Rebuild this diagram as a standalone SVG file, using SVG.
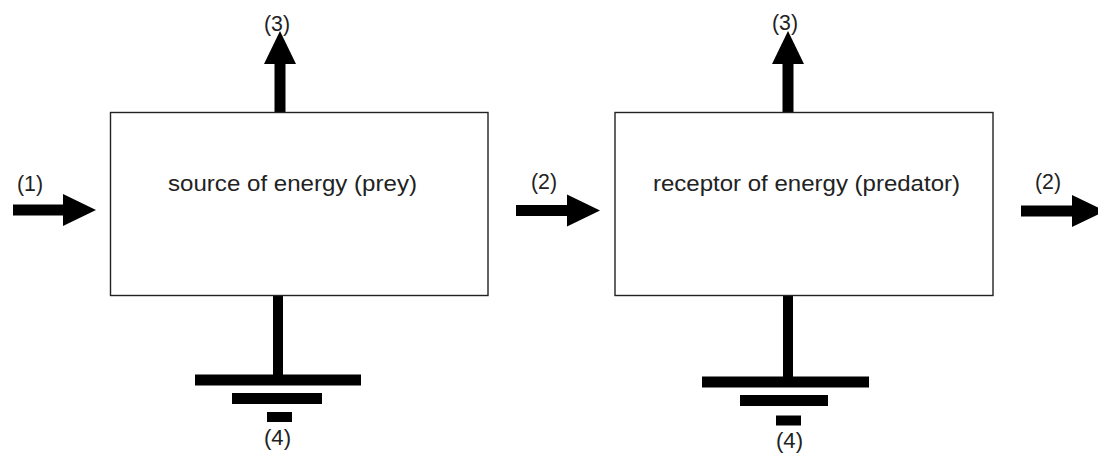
<svg xmlns="http://www.w3.org/2000/svg" width="1098" height="453" viewBox="0 0 1098 453">
<style>
.box{fill:#fff;stroke:#222;stroke-width:1.4}
.main{font-family:"Liberation Sans",Arial,sans-serif;font-size:22px;fill:#222}
.lbl{font-family:"Liberation Sans",Arial,sans-serif;font-size:22px;fill:#222}
.shaft{stroke:#000;stroke-width:11;fill:none}
.stem{stroke:#000;stroke-width:10;fill:none}
.bar{fill:#000}
</style>
<defs>
<marker id="head" markerUnits="userSpaceOnUse" markerWidth="34" markerHeight="33" refX="0" refY="16" orient="auto" overflow="visible">
<path d="M0,0 L33,16 L0,32 Z" fill="#000"/>
</marker>
</defs>
<rect width="1098" height="453" fill="#fff"/>
<g id="connectors">
<line class="shaft" x1="13" y1="210" x2="63" y2="210" marker-end="url(#head)"/>
<line class="shaft" x1="516" y1="210.5" x2="567" y2="210.5" marker-end="url(#head)"/>
<line class="shaft" x1="1021" y1="211" x2="1072" y2="211" marker-end="url(#head)"/>
<line class="shaft" x1="280" y1="113" x2="280" y2="64" marker-end="url(#head)"/>
<line class="shaft" x1="788" y1="113" x2="788" y2="64" marker-end="url(#head)"/>
<line class="stem" x1="278" y1="296" x2="278" y2="375"/>
<line class="stem" x1="788" y1="296" x2="788" y2="377"/>
</g>
<g id="source">
<rect class="box" x="110.5" y="112.5" width="377.5" height="183"/>
<text class="main" x="168" y="191" textLength="249" lengthAdjust="spacingAndGlyphs">source of energy (prey)</text>
</g>
<g id="receptor">
<rect class="box" x="615" y="112.5" width="378" height="183"/>
<text class="main" x="653" y="191" textLength="307" lengthAdjust="spacingAndGlyphs">receptor of energy (predator)</text>
</g>
<g id="ground1">
<rect class="bar" x="195" y="374.5" width="166" height="11"/>
<rect class="bar" x="232" y="393" width="90" height="11"/>
<rect class="bar" x="267" y="412" width="25" height="10"/>
</g>
<g id="ground2">
<rect class="bar" x="702" y="376.5" width="167" height="11"/>
<rect class="bar" x="740" y="395" width="88" height="11"/>
<rect class="bar" x="776" y="415.5" width="25" height="10"/>
</g>
<g id="labels">
<text class="lbl" x="17" y="191" textLength="26" lengthAdjust="spacingAndGlyphs">(1)</text>
<text class="lbl" x="531" y="188.5" textLength="26" lengthAdjust="spacingAndGlyphs">(2)</text>
<text class="lbl" x="1035" y="189" textLength="26" lengthAdjust="spacingAndGlyphs">(2)</text>
<text class="lbl" x="264" y="31" textLength="26" lengthAdjust="spacingAndGlyphs">(3)</text>
<text class="lbl" x="772" y="29.5" textLength="26" lengthAdjust="spacingAndGlyphs">(3)</text>
<text class="lbl" x="264" y="445" textLength="27" lengthAdjust="spacingAndGlyphs">(4)</text>
<text class="lbl" x="776" y="447.5" textLength="27" lengthAdjust="spacingAndGlyphs">(4)</text>
</g>
</svg>
